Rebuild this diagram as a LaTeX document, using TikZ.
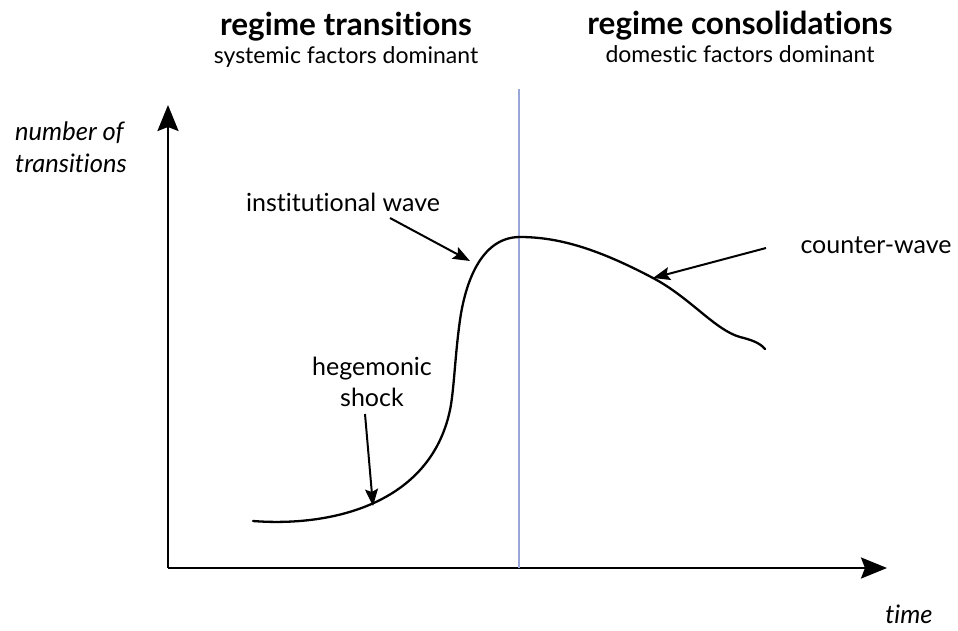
\documentclass[tikz,border=0pt]{standalone}
\usepackage{fontspec}
\setmainfont{Lato}[Ligatures={NoCommon}]
\usetikzlibrary{arrows.meta}
\definecolor{divider}{HTML}{9AA6D8}
\begin{document}
\begin{tikzpicture}[x=1pt,y=-1pt,
  axis/.style={line width=2.4pt,-{Stealth[length=26pt,width=21pt,inset=4pt]}},
  pointer/.style={line width=2pt,-{Stealth[length=17pt,width=13pt,inset=3pt]}},
  label/.style={inner sep=0pt,anchor=base,font=\fontsize{25}{31}\selectfont,align=center},
  title/.style={inner sep=0pt,anchor=base,font=\bfseries\fontsize{31.5}{36}\selectfont},
  subtitle/.style={inner sep=0pt,anchor=base,font=\fontsize{23}{27}\selectfont},
  axislabel/.style={inner sep=0pt,font=\itshape\fontsize{25.5}{32}\selectfont,align=left}]
\useasboundingbox (0,0) rectangle (958,630);

% axes
\coordinate (origin) at (168,568);
\coordinate (ytip) at (168,105);
\coordinate (xtip) at (887,568);
\draw[axis] (origin) -- (ytip);
\draw[axis] (origin) -- (xtip);

% divider between the two phases
\coordinate (divtop) at (519,89);
\coordinate (divbot) at (519,568);
\draw[divider,line width=2pt] (divtop) -- (divbot);

% headings
\node[title] (t1) at (346,35) {regime transitions};
\node[subtitle] (s1) at (346,63) {systemic factors dominant};
\node[title] (t2) at (740,34) {regime consolidations};
\node[subtitle] (s2) at (740,62) {domestic factors dominant};

% axis labels (base anchor sits on the last line)
\node[axislabel,anchor=base west] (ylab) at (15,172) {number of\\transitions};
\node[axislabel,anchor=base] (xlab) at (909,623) {time};

% the wave
\draw[line width=2.3pt,line cap=round]
  (253,521) .. controls (330,527) and (430,505) .. (450,410)
            .. controls (454,391) and (455,355) .. (460,320)
            .. controls (465,285) and (480,237) .. (520,237)
            .. controls (560,237) and (600,250) .. (653,278)
            .. controls (690,297.5) and (715,330) .. (740,337)
            .. controls (752,340) and (760,343) .. (765,349);

% annotations
\node[label] (inst) at (343,211) {institutional wave};
\node[label] (shock) at (372,406) {hegemonic\\shock};
\node[label] (counter) at (876,253) {counter-wave};
\coordinate (instfrom) at (390,218);
\coordinate (instto) at (470,261);
\coordinate (shockfrom) at (365,414);
\coordinate (shockto) at (373,506);
\coordinate (counterfrom) at (766,248);
\coordinate (counterto) at (653,278);
\draw[pointer] (instfrom) -- (instto);
\draw[pointer] (shockfrom) -- (shockto);
\draw[pointer] (counterfrom) -- (counterto);
\end{tikzpicture}
\end{document}
